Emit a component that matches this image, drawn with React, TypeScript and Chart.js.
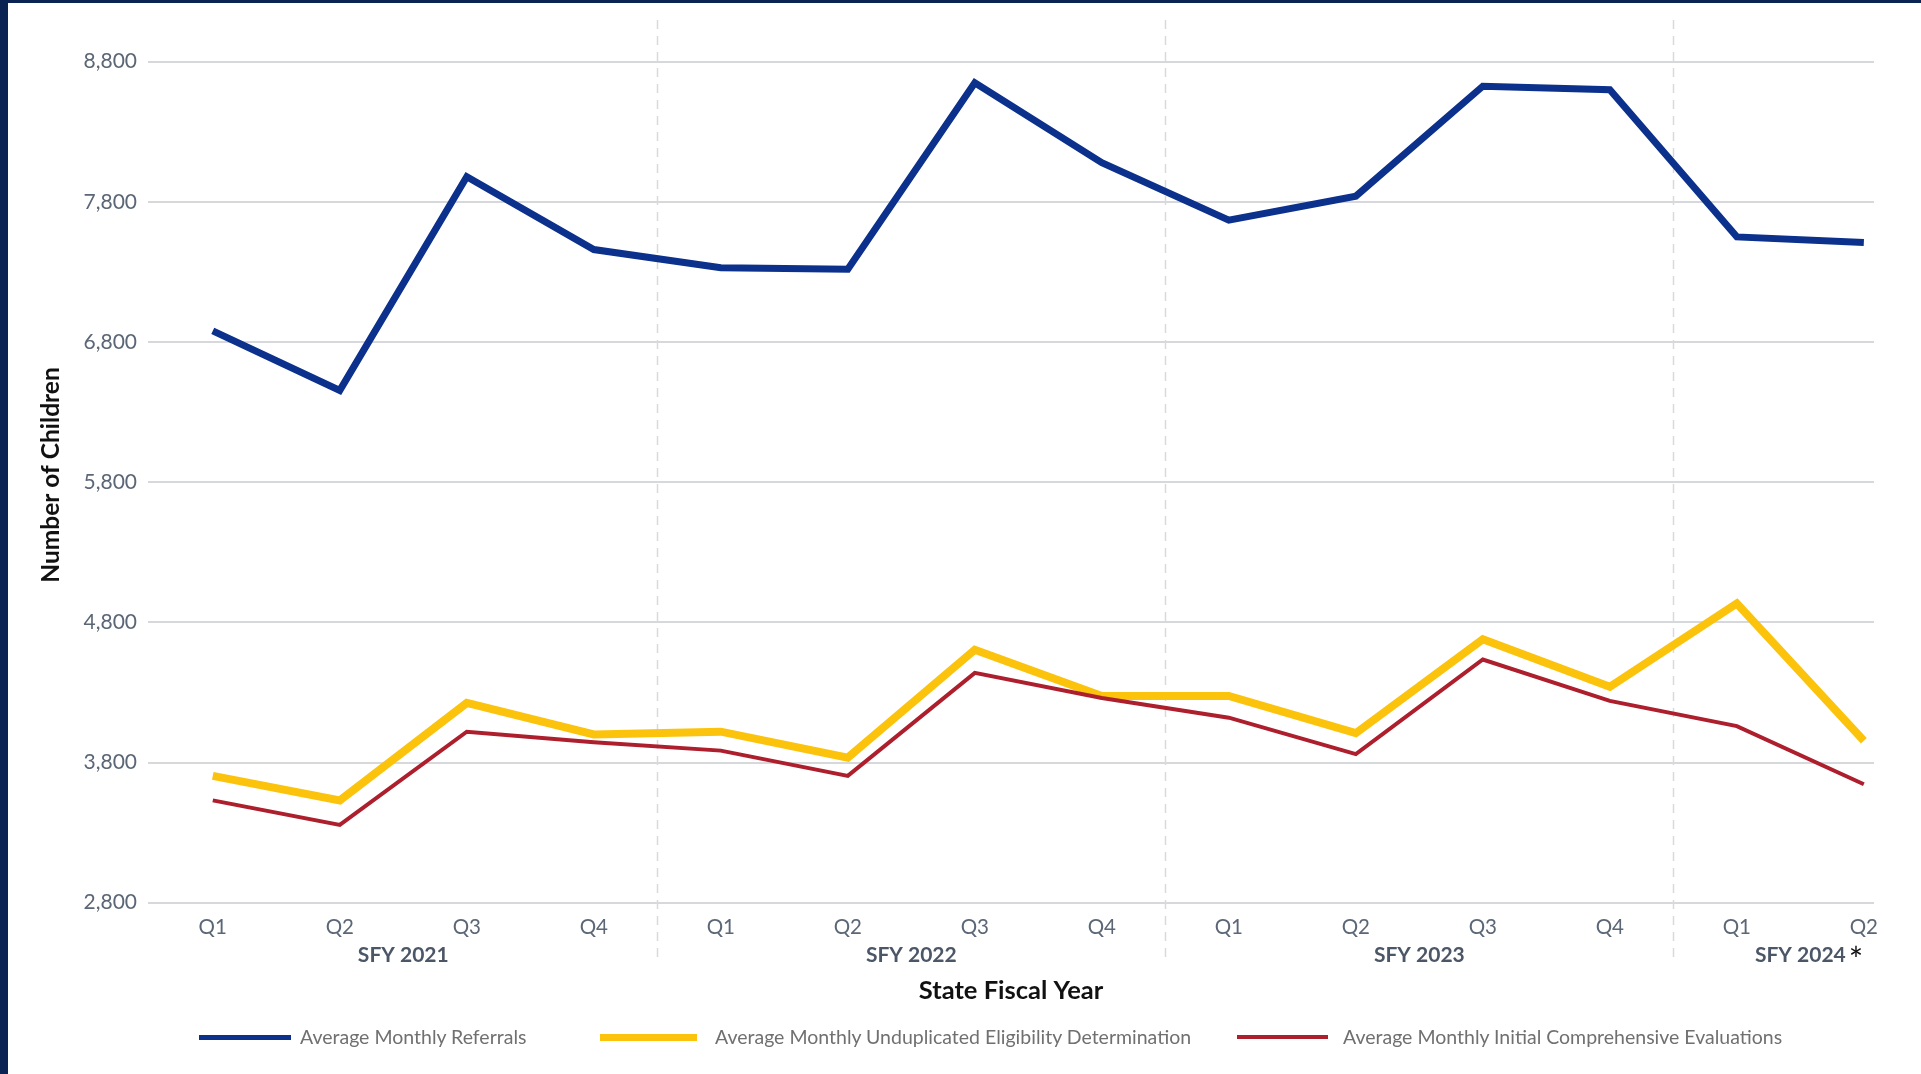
import React, { useEffect, useRef } from 'react';
import { Chart, registerables } from 'chart.js';

Chart.register(...registerables);

// ---- Data ----
const quarterLabels = ['Q1', 'Q2', 'Q3', 'Q4', 'Q1', 'Q2', 'Q3', 'Q4', 'Q1', 'Q2', 'Q3', 'Q4', 'Q1', 'Q2'];
const fiscalYears = ['SFY 2021', 'SFY 2022', 'SFY 2023', 'SFY 2024'];
const fiscalYearQuarterCounts = [4, 4, 4, 2];
const seriesNames = [
  'Average Monthly Referrals',
  'Average Monthly Unduplicated Eligibility Determination',
  'Average Monthly Initial Comprehensive Evaluations',
];
const referrals = [6880, 6455, 7980, 7460, 7330, 7320, 8650, 8080, 7670, 7840, 8625, 8600, 7550, 7510];
const eligibility = [3705, 3530, 4225, 4000, 4020, 3835, 4605, 4275, 4275, 4010, 4680, 4340, 4935, 3955];
const evaluations = [3530, 3355, 4020, 3945, 3885, 3705, 4440, 4260, 4120, 3860, 4535, 4240, 4060, 3645];
const yTickValues = [2800, 3800, 4800, 5800, 6800, 7800, 8800];
const yAxisTitle = 'Number of Children';
const xAxisTitle = 'State Fiscal Year';

const BLUE = '#0b318c';
const YELLOW = '#fcc30c';
const RED = '#ad1f2c';
const NAVY = '#0a2353';
const FONT = 'Lato, "Open Sans", sans-serif';

const toPoints = (arr: number[]) => arr.map((v, i) => ({ x: i, y: v }));

const annotatePlugin = {
  id: 'annotate',
  beforeDatasetsDraw(chart: any) {
    const { ctx, scales } = chart;
    const x = scales.x;
    ctx.save();
    ctx.strokeStyle = '#d9d9d9';
    ctx.lineWidth = 1.5;
    ctx.setLineDash([9, 7]);
    let idx = 0;
    for (let g = 0; g < fiscalYearQuarterCounts.length - 1; g++) {
      idx += fiscalYearQuarterCounts[g];
      const px = Math.round(x.getPixelForValue(idx - 0.5)) + 0.5;
      ctx.beginPath();
      ctx.moveTo(px, 20);
      ctx.lineTo(px, 963);
      ctx.stroke();
    }
    ctx.restore();
  },
  afterDraw(chart: any) {
    const { ctx, scales, chartArea } = chart;
    const x = scales.x;
    const y = chartArea.bottom + 52.5;
    ctx.save();
    ctx.textBaseline = 'middle';
    let start = 0;
    fiscalYears.forEach((label, g) => {
      const end = start + fiscalYearQuarterCounts[g] - 1;
      const cx = (x.getPixelForValue(start) + x.getPixelForValue(end)) / 2;
      ctx.font = `bold 21px ${FONT}`;
      ctx.fillStyle = '#4b5666';
      ctx.textAlign = 'center';
      ctx.fillText(label, cx, y);
      if (g === fiscalYears.length - 1) {
        const w = ctx.measureText(label).width;
        ctx.font = `34px ${FONT}`;
        ctx.fillStyle = '#111111';
        ctx.textAlign = 'left';
        ctx.fillText('*', cx + w / 2 + 3, y + 6);
      }
      start = end + 1;
    });
    // y axis title
    ctx.save();
    ctx.translate(51, 475);
    ctx.rotate(-Math.PI / 2);
    ctx.font = `bold 24.5px ${FONT}`;
    ctx.fillStyle = '#111111';
    ctx.textAlign = 'center';
    ctx.textBaseline = 'middle';
    ctx.fillText(yAxisTitle, 0, 0);
    ctx.restore();
    ctx.restore();
  },
};

export default function App() {
  const canvasRef = useRef<HTMLCanvasElement | null>(null);

  useEffect(() => {
    document.body.style.margin = '0';
    const canvas = canvasRef.current;
    if (!canvas) return;
    const chart = new Chart(canvas, {
      type: 'line',
      data: {
        datasets: [
          {
            label: seriesNames[0],
            data: toPoints(referrals),
            borderColor: BLUE,
            backgroundColor: BLUE,
            borderWidth: 7,
            order: 0,
          },
          {
            label: seriesNames[1],
            data: toPoints(eligibility),
            borderColor: YELLOW,
            backgroundColor: YELLOW,
            borderWidth: 8,
            order: 2,
          },
          {
            label: seriesNames[2],
            data: toPoints(evaluations),
            borderColor: RED,
            backgroundColor: RED,
            borderWidth: 4,
            order: 1,
          },
        ] as any,
      },
      options: {
        animation: false,
        responsive: false,
        devicePixelRatio: 1,
        elements: {
          point: { radius: 0, hoverRadius: 0 },
          line: { tension: 0, borderJoinStyle: 'miter', borderCapStyle: 'butt', fill: false },
        },
        layout: { padding: { left: 0, right: 47, top: 61.7, bottom: 64 } },
        plugins: {
          legend: { display: false },
          tooltip: { enabled: false },
        },
        scales: {
          x: {
            type: 'linear',
            min: -0.51,
            max: 13.08,
            grid: { display: false, drawTicks: false },
            border: { display: false },
            afterFit: (scale: any) => {
              scale.height = 107.3;
            },
            afterBuildTicks: (scale: any) => {
              scale.ticks = quarterLabels.map((_, i) => ({ value: i }));
            },
            ticks: {
              autoSkip: false,
              maxRotation: 0,
              padding: 12.3,
              color: '#5b6676',
              font: { family: FONT, size: 20.5 },
              callback: (v: any) => quarterLabels[Math.round(Number(v))] ?? '',
            },
            title: {
              display: true,
              text: xAxisTitle,
              color: '#111111',
              font: { family: FONT, size: 25.5, weight: 'bold' },
              padding: { top: 0, bottom: 3.5 },
            },
          },
          y: {
            type: 'linear',
            min: 2800,
            max: 8800,
            afterFit: (scale: any) => {
              scale.width = 148;
            },
            afterBuildTicks: (scale: any) => {
              scale.ticks = yTickValues.map((v) => ({ value: v }));
            },
            grid: { color: '#d6d8dc', lineWidth: 2, drawTicks: false },
            border: { display: false },
            ticks: {
              padding: 11,
              color: '#5b6676',
              font: { family: FONT, size: 21 },
              callback: (v: any) => Number(v).toLocaleString('en-US'),
            },
            title: { display: false },
          },
        },
      } as any,
      plugins: [annotatePlugin],
    });
    return () => chart.destroy();
  }, []);

  const legendItems = [
    { label: seriesNames[0], color: BLUE, thickness: 5, left: 199, swatch: 92, gap: 9 },
    { label: seriesNames[1], color: YELLOW, thickness: 7, left: 600, swatch: 97, gap: 18 },
    { label: seriesNames[2], color: RED, thickness: 4, left: 1237, swatch: 91, gap: 15 },
  ];

  return (
    <div
      style={{
        position: 'fixed',
        left: 0,
        top: 0,
        width: 1921,
        height: 1074,
        background: '#ffffff',
        overflow: 'hidden',
      }}
    >
      <canvas ref={canvasRef} width={1921} height={1074} style={{ position: 'absolute', left: 0, top: 0 }} />
      <div style={{ position: 'absolute', left: 0, top: 0, width: 8, height: 1074, background: NAVY }} />
      <div style={{ position: 'absolute', left: 0, top: 0, width: 1921, height: 3, background: NAVY }} />
      {legendItems.map((it) => (
        <div
          key={it.label}
          style={{
            position: 'absolute',
            left: it.left,
            top: 1025,
            height: 24,
            display: 'flex',
            alignItems: 'center',
            whiteSpace: 'nowrap',
          }}
        >
          <div style={{ width: it.swatch, height: it.thickness, background: it.color, marginRight: it.gap }} />
          <span style={{ fontFamily: FONT, fontSize: 19.5, color: '#707070', lineHeight: '24px' }}>{it.label}</span>
        </div>
      ))}
    </div>
  );
}
